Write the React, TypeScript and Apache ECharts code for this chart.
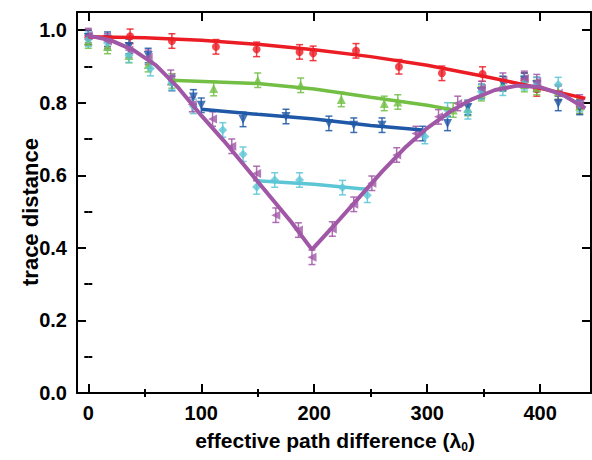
import React, { useEffect, useRef } from 'react';
import * as echarts from 'echarts';

const X_TICKS = [0, 100, 200, 300, 400];
const X_MINOR = [50, 150, 250, 350];
const Y_TICKS = [0, 0.2, 0.4, 0.6, 0.8, 1.0];
const Y_MINOR = [0.1, 0.3, 0.5, 0.7, 0.9];

const ERR = 0.02;

// measured points [x, y]
const redPts = [[0, 0.98], [37, 0.983], [74, 0.97], [113, 0.954], [149, 0.947], [187, 0.94], [199, 0.936], [237, 0.943], [275, 0.899], [313, 0.881], [349, 0.879], [386, 0.862], [397, 0.838], [435, 0.79]];
const greenPts = [[0, 0.97], [17, 0.955], [36, 0.93], [53, 0.905], [74, 0.86], [111, 0.839], [150, 0.862], [188, 0.848], [224, 0.809], [262, 0.798], [274, 0.802], [323, 0.78], [336, 0.784], [348, 0.825], [367, 0.852], [386, 0.85], [397, 0.842], [416, 0.83], [435, 0.79]];
const bluePts = [[0, 0.98], [17, 0.975], [36, 0.955], [53, 0.93], [74, 0.853], [93, 0.816], [100, 0.793], [137, 0.754], [175, 0.762], [213, 0.743], [235, 0.738], [260, 0.738], [296, 0.715], [318, 0.743], [336, 0.787], [348, 0.831], [367, 0.853], [386, 0.862], [397, 0.85], [416, 0.798], [435, 0.787]];
const cyanPts = [[0, 0.975], [17, 0.965], [36, 0.931], [55, 0.894], [74, 0.855], [93, 0.79], [119, 0.725], [137, 0.658], [149, 0.568], [165, 0.587], [187, 0.587], [225, 0.566], [247, 0.545], [298, 0.707], [318, 0.78], [336, 0.775], [348, 0.83], [367, 0.84], [386, 0.855], [397, 0.85], [416, 0.85], [435, 0.795]];
const purplePts = [[0, 0.985], [17, 0.97], [36, 0.945], [53, 0.925], [73, 0.87], [92, 0.795], [110, 0.755], [127, 0.68], [149, 0.605], [166, 0.49], [186, 0.449], [198, 0.374], [216, 0.452], [235, 0.52], [251, 0.578], [273, 0.656], [290, 0.715], [310, 0.761], [327, 0.798], [348, 0.839], [367, 0.862], [386, 0.867], [397, 0.858], [416, 0.826], [435, 0.802]];

// fitted curves [x, y]
const redFit = [[0, 0.982], [50, 0.979], [100, 0.972], [150, 0.961], [200, 0.946], [250, 0.927], [300, 0.903], [350, 0.873], [400, 0.84], [440, 0.812]];
const greenFit = [[73, 0.862], [150, 0.853], [200, 0.838], [250, 0.815], [300, 0.793], [322, 0.781]];
const blueFit = [[100, 0.782], [150, 0.768], [200, 0.755], [250, 0.737], [296, 0.725]];
const cyanFit = [[149, 0.585], [200, 0.575], [248, 0.561]];
const purpleFit = [[0, 0.985], [20, 0.972], [40, 0.945], [60, 0.903], [80, 0.84], [100, 0.765], [120, 0.695], [140, 0.62], [160, 0.545], [180, 0.47], [198, 0.395], [220, 0.47], [240, 0.54], [260, 0.61], [280, 0.675], [300, 0.73], [320, 0.775], [340, 0.81], [360, 0.835], [380, 0.847], [400, 0.843], [420, 0.822], [440, 0.785]];

const RED = '#ec1c24';
const GREEN = '#72bf44';
const BLUE = '#1f58a6';
const CYAN = '#5cc6d6';
const PURPLE = '#a057a6';

const FONT = '"Liberation Sans", Arial, sans-serif';

function errSeries(pts: number[][], color: string) {
  return {
    type: 'custom',
    z: 2,
    silent: true,
    data: pts.map((p) => [p[0], p[1], ERR]),
    renderItem: (params: any, api: any) => {
      const x = api.value(0);
      const y = api.value(1);
      const e = api.value(2);
      const top = api.coord([x, y + e]);
      const bot = api.coord([x, y - e]);
      const w = 3.5;
      const style = { stroke: color, lineWidth: 1.5, opacity: 0.85 };
      return {
        type: 'group',
        children: [
          { type: 'line', shape: { x1: top[0], y1: top[1], x2: bot[0], y2: bot[1] }, style },
          { type: 'line', shape: { x1: top[0] - w, y1: top[1], x2: top[0] + w, y2: top[1] }, style },
          { type: 'line', shape: { x1: bot[0] - w, y1: bot[1], x2: bot[0] + w, y2: bot[1] }, style },
        ],
      };
    },
  };
}

function markSeries(pts: number[][], color: string, symbol: string, rotate: number, size: number) {
  return {
    type: 'scatter',
    z: 3,
    data: pts,
    symbol,
    symbolRotate: rotate,
    symbolSize: size,
    itemStyle: { color },
  };
}

function fitSeries(pts: number[][], color: string, width: number, z: number) {
  return {
    type: 'line',
    z,
    data: pts,
    showSymbol: false,
    smooth: false,
    lineStyle: { color, width },
  };
}

const axisLineStyle = { show: true, lineStyle: { color: '#000', width: 2 } };

function xAx(position: string, ticks: number[], len: number, labels: boolean, line: boolean) {
  return {
    type: 'value',
    position,
    min: -10,
    max: 445,
    axisLine: line ? { ...axisLineStyle, onZero: false } : { show: false },
    axisTick: { show: true, inside: true, length: len, customValues: ticks, lineStyle: { color: '#000', width: 2 } },
    axisLabel: labels
      ? { show: true, customValues: ticks, color: '#000', fontSize: 20, fontWeight: 'bold', fontFamily: FONT, margin: 10 }
      : { show: false },
    splitLine: { show: false },
  };
}

function yAx(position: string, ticks: number[], len: number, labels: boolean, line: boolean) {
  return {
    type: 'value',
    position,
    min: 0,
    max: 1.05,
    axisLine: line ? { ...axisLineStyle, onZero: false } : { show: false },
    axisTick: { show: true, inside: true, length: len, customValues: ticks, lineStyle: { color: '#000', width: 2 } },
    axisLabel: labels
      ? {
          show: true,
          customValues: ticks,
          color: '#000',
          fontSize: 20,
          fontWeight: 'bold',
          fontFamily: FONT,
          margin: 10,
          formatter: (v: number) => v.toFixed(1),
        }
      : { show: false },
    splitLine: { show: false },
  };
}

export default function App() {
  const ref = useRef<HTMLDivElement>(null);
  useEffect(() => {
    if (!ref.current) return;
    const chart = echarts.init(ref.current, null, { renderer: 'svg' });
    chart.setOption({
      animation: false,
      backgroundColor: '#fff',
      grid: { left: 77, right: 1, top: 12, bottom: 67, containLabel: false },
      xAxis: [
        xAx('bottom', X_TICKS, 9, true, true),
        xAx('bottom', X_MINOR, 4, false, false),
        xAx('top', X_TICKS, 9, false, true),
        xAx('top', X_MINOR, 4, false, false),
      ],
      yAxis: [
        yAx('left', Y_TICKS, 9, true, true),
        yAx('left', Y_MINOR, 4, false, false),
        yAx('right', Y_TICKS, 9, false, true),
        yAx('right', Y_MINOR, 4, false, false),
      ],
      series: [
        errSeries(redPts, RED),
        errSeries(greenPts, GREEN),
        errSeries(bluePts, BLUE),
        errSeries(cyanPts, CYAN),
        errSeries(purplePts, PURPLE),
        markSeries(redPts, RED, 'circle', 0, 8),
        markSeries(greenPts, GREEN, 'triangle', 0, 9),
        markSeries(bluePts, BLUE, 'triangle', 180, 9),
        markSeries(cyanPts, CYAN, 'diamond', 0, 9),
        markSeries(purplePts, PURPLE, 'triangle', 90, 9),
        fitSeries(redFit, RED, 3.5, 4),
        fitSeries(greenFit, GREEN, 3.5, 4),
        fitSeries(blueFit, BLUE, 3.5, 4),
        fitSeries(cyanFit, CYAN, 3.5, 4),
        fitSeries(purpleFit, PURPLE, 4, 5),
      ],
      graphic: [
        {
          type: 'text',
          x: 30,
          y: 212,
          rotation: Math.PI / 2,
          style: {
            text: 'trace distance',
            font: `bold 22px ${FONT}`,
            fill: '#000',
            align: 'center',
            verticalAlign: 'middle',
          },
        },
        {
          type: 'text',
          x: 335,
          y: 440,
          style: {
            text: 'effective path difference (λ{sub|0})',
            font: `bold 21px ${FONT}`,
            fill: '#000',
            align: 'center',
            verticalAlign: 'middle',
            rich: {
              sub: { font: `bold 12px ${FONT}`, fill: '#000', padding: [14, 0, 0, 0] },
            },
          },
        },
      ],
    });
    return () => chart.dispose();
  }, []);
  return <div ref={ref} style={{ position: 'absolute', left: 0, top: 0, width: 592, height: 460 }} />;
}
